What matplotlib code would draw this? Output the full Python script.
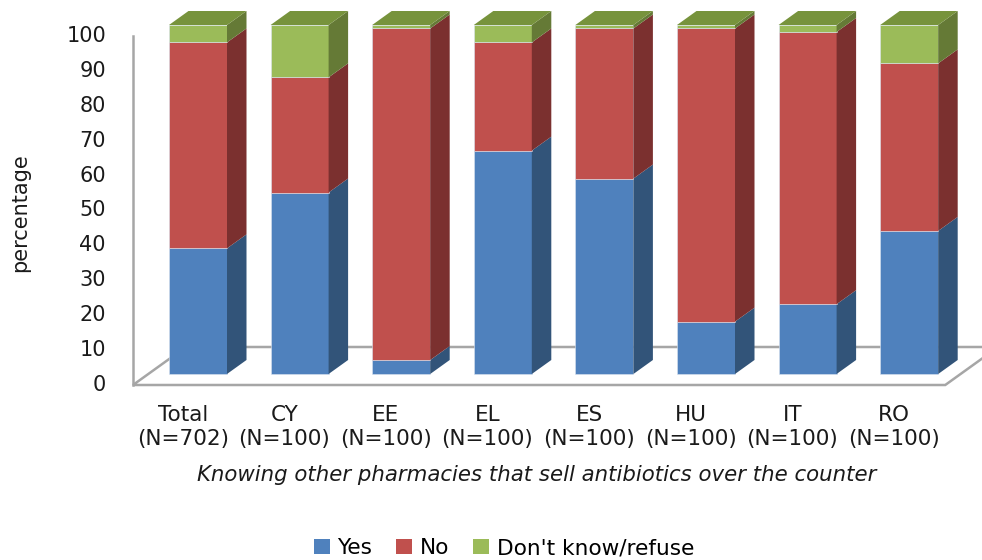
import numpy as np
import matplotlib.pyplot as plt
from matplotlib.patches import Polygon, Patch

plt.rcParams['font.family'] = ['DejaVu Sans']

# survey answers (% of respondents)
countries = ['Total', 'CY', 'EE', 'EL', 'ES', 'HU', 'IT', 'RO']
sizes = [702, 100, 100, 100, 100, 100, 100, 100]
yes = [36, 52, 4, 64, 56, 15, 20, 41]
no = [59, 33, 95, 31, 43, 84, 78, 48]
dont_know = [5, 15, 1, 5, 1, 1, 2, 11]
series_names = ['Yes', 'No', "Don't know/refuse"]
yticks = list(range(0, 101, 10))

front = ['#4f81bd', '#c0504d', '#9bbb59']
side = ['#325479', '#7b302f', '#657a36']
top_col = ['#3d669a', '#9a3e3c', '#77933c']

# layout in pixels -> data units
W, H = 982, 560
x0_px, step_px = 198, 101.6
base_px, unit_px = 374, 3.49
bar_w = 58 / step_px
dx, dy = 19.5 / step_px, 14 / unit_px          # bar depth offset
fx, fy = -15.3 / step_px, -11 / unit_px        # floor front edge offset
bx, by = 37.6 / step_px, 27 / unit_px          # floor back edge offset

fig = plt.figure(figsize=(W / 100, H / 100), dpi=100)
ax = fig.add_axes([0, 0, 1, 1])
ax.set_xlim(-x0_px / step_px, (W - x0_px) / step_px)
ax.set_ylim((base_px - H) / unit_px, base_px / unit_px)
ax.axis('off')

x = np.arange(len(countries))
grid = '#a6a6a6'

# floor
left = x[0] - bar_w / 2 - 0.204
right = x[-1] + bar_w / 2 + 0.22
floor = Polygon([(left + fx, fy), (right + fx, fy), (right + bx, by), (left + bx, by)],
                closed=True, facecolor='white', edgecolor=grid, lw=1.8, zorder=1)
ax.add_patch(floor)
# vertical axis line
ax.plot([left + fx, left + fx], [fy, 100 + fy], color=grid, lw=1.8, zorder=1)

for t in yticks:
    ax.text((106 - x0_px) / step_px, t + fy, str(t), ha='right', va='center',
            fontsize=15, color='#1a1a1a')

# stacked 3D columns
stack = np.array([yes, no, dont_know], dtype=float)
bottoms = np.vstack([np.zeros(len(x)), np.cumsum(stack, axis=0)[:-1]])
for i in x:
    xl, xr = i - bar_w / 2, i + bar_w / 2
    for k in range(3):
        b, h = bottoms[k, i], stack[k, i]
        if h <= 0:
            continue
        ax.bar(i, h, bottom=b, width=bar_w, color=front[k],
               edgecolor='#dbe4f0', lw=0.4, zorder=3)
        ax.add_patch(Polygon([(xr, b), (xr + dx, b + dy), (xr + dx, b + h + dy), (xr, b + h)],
                             closed=True, facecolor=side[k], edgecolor='none', zorder=3))
    total = bottoms[-1, i] + stack[-1, i]
    ax.add_patch(Polygon([(xl, total), (xl + dx, total + dy), (xr + dx, total + dy), (xr, total)],
                         closed=True, facecolor=top_col[2], edgecolor='none', zorder=3))

# category labels
for i, (c, n) in enumerate(zip(countries, sizes)):
    ax.text(i + fx, (base_px - 405) / unit_px, f'{c}\n(N={n})', ha='center', va='top',
            fontsize=15.5, color='#1a1a1a', linespacing=1.25)

ax.text((537 - x0_px) / step_px, (base_px - 475) / unit_px,
        'Knowing other pharmacies that sell antibiotics over the counter',
        ha='center', va='center', fontsize=15.3, style='italic', color='#1a1a1a')
ax.text((20 - x0_px) / step_px, (base_px - 213) / unit_px, 'percentage',
        rotation=90, ha='center', va='center', fontsize=15, color='#1a1a1a')

handles = [Patch(facecolor=c) for c in front]
fig.legend(handles, series_names, loc='center', bbox_to_anchor=(504 / W, 1 - 548 / H),
           ncol=3, frameon=False, fontsize=15.6, handlelength=0.75, handleheight=0.75,
           handletextpad=0.35, columnspacing=1.1, borderpad=0)

fig.savefig('out.png', dpi=100)
